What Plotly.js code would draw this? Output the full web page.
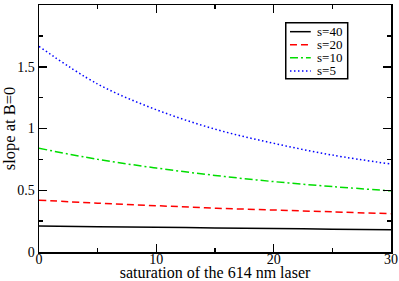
<!DOCTYPE html>
<html>
<head>
<meta charset="utf-8">
<script src="https://cdn.plot.ly/plotly-3.0.1.min.js"></script>
<style>html,body{margin:0;padding:0;background:#fff;}#chart{width:399px;height:281px;}</style>
</head>
<body>
<div id="chart"></div>
<script>
const saturation = [0, 5, 10, 15, 20, 25, 30];
const s40 = [0.210, 0.205, 0.200, 0.195, 0.190, 0.185, 0.180];
const s20 = [0.420, 0.395, 0.375, 0.355, 0.340, 0.325, 0.310];
const s10 = [0.840, 0.750, 0.680, 0.620, 0.570, 0.530, 0.495];
const s5  = [1.665, 1.360, 1.152, 0.995, 0.880, 0.785, 0.712];
const seriesNames = ['s=40', 's=20', 's=10', 's=5'];
const seriesColors = ['#000000', '#ff0000', '#00dd00', '#0000ff'];
const seriesDash = ['solid', '7px,4px', '8px,3px,2px,3px', '1.5px,2.5px'];
const xTicks = [0, 10, 20, 30];
const yTicks = [0, 0.5, 1, 1.5, 2];

const font = 'Liberation Serif';
const seriesY = [s40, s20, s10, s5];
const traces = seriesY.map((ys, i) => ({
  x: saturation, y: ys, name: seriesNames[i], mode: 'lines', showlegend: false,
  line: {color: seriesColors[i], width: 1.5, dash: seriesDash[i], shape: 'spline'}
}));

// hand-drawn legend (plotly's legend rows cannot be as tight as the reference)
const legBox = {x0: 0.701, x1: 0.877, y0: 0.701, y1: 0.928};
const rowY = [0.892, 0.839, 0.786, 0.733];
const shapes = [{type: 'rect', xref: 'paper', yref: 'paper', x0: legBox.x0, x1: legBox.x1, y0: legBox.y0, y1: legBox.y1,
  line: {color: '#000', width: 1.5}, fillcolor: '#fff', layer: 'above'}];
const annotations = [];
seriesNames.forEach((n, i) => {
  shapes.push({type: 'line', xref: 'paper', yref: 'paper', x0: 0.713, x1: 0.772, y0: rowY[i], y1: rowY[i],
    line: {color: seriesColors[i], width: 1.5, dash: seriesDash[i]}, layer: 'above'});
  annotations.push({xref: 'paper', yref: 'paper', x: 0.788, y: rowY[i], xanchor: 'left', yanchor: 'middle',
    text: n, showarrow: false, borderpad: 0, font: {family: font, size: 13, color: '#000'}});
});

const axisCommon = {
  showgrid: false, zeroline: false, showline: true, linecolor: '#000', linewidth: 1.5,
  mirror: 'allticks', ticks: 'inside', ticklen: 8, tickwidth: 1.5, tickcolor: '#000',
  automargin: false,
  tickfont: {family: font, size: 14, color: '#000'}
};
const layout = {
  width: 399, height: 281,
  margin: {l: 39, r: 8, t: 5, b: 29},
  paper_bgcolor: '#fff', plot_bgcolor: '#fff',
  font: {family: font, size: 14, color: '#000'},
  xaxis: Object.assign({}, axisCommon, {
    range: [0, 30], tickvals: xTicks, ticktext: xTicks.map(String), ticklabelstandoff: -6,
    minor: {ticks: 'inside', ticklen: 4, tickwidth: 1.5, tickcolor: '#000', tickvals: [5, 15, 25]},
    title: {text: 'saturation of the 614 nm laser', font: {family: font, size: 16, color: '#000'}}
  }),
  yaxis: Object.assign({}, axisCommon, {
    range: [0, 2], tickvals: yTicks, ticktext: yTicks.map(String),
    minor: {ticks: 'inside', ticklen: 4, tickwidth: 1.5, tickcolor: '#000', tickvals: [0.25, 0.75, 1.25, 1.75]},
    title: {text: 'slope at B=0', font: {family: font, size: 16.5, color: '#000'}, standoff: 4}
  }),
  shapes: shapes,
  annotations: annotations,
  showlegend: false
};
Plotly.newPlot('chart', traces, layout, {staticPlot: true, displayModeBar: false});
</script>
</body>
</html>
